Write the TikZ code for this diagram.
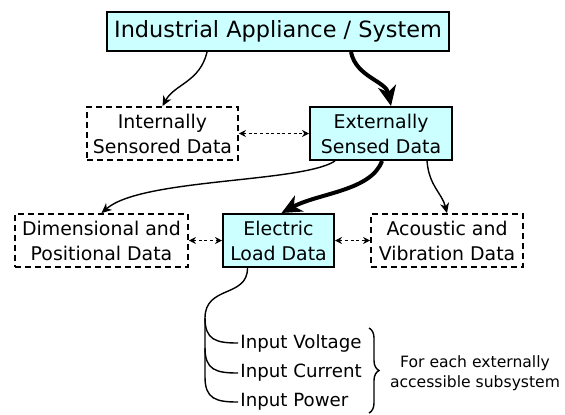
\documentclass[tikz,border=0pt]{standalone}
\usepackage{fontspec}
\setmainfont{DejaVu Sans}
\usetikzlibrary{arrows.meta,positioning,calc,decorations.pathreplacing}
\definecolor{cyanpale}{HTML}{CCFFFF}

\begin{document}
\begin{tikzpicture}[x=0.5pt,y=-0.5pt]
%styles : boites pleines (mesures), boites tiretees (autres donnees), fleches
\tikzset{plein/.style={draw,line width=1pt,fill=cyanpale,align=center,inner sep=1pt,minimum height=26.5pt,font=\fontsize{9.45}{12.5}\selectfont},
tiret/.style={draw,line width=0.9pt,dash pattern=on 3pt off 2pt,align=center,inner sep=1pt,minimum height=26.5pt,font=\fontsize{9.45}{12.5}\selectfont},
fin/.style={line width=0.7pt,-{Stealth[length=5pt,width=4.5pt,inset=1.5pt]}},
gros/.style={line width=2pt,-{Stealth[length=10pt,width=9pt,inset=3pt]}},
pointille/.style={line width=0.7pt,dash pattern=on 1.5pt off 1.3pt,{Stealth[length=3.5pt,width=3.5pt]}-{Stealth[length=3.5pt,width=3.5pt]}},
entree/.style={inner sep=1pt,font=\fontsize{9.1}{11}\selectfont}}
\useasboundingbox (0,0) rectangle (565,414);
\node[plein,minimum width=171pt,minimum height=19.5pt,font=\fontsize{11.2}{13}\selectfont] (sys) at (278,31.5) {Industrial Appliance / System};
\node[tiret,minimum width=75.5pt] (interne) at (162.5,133.5) {Internally\\Sensored Data};
\node[plein,minimum width=71pt] (externe) at (381,133.5) {Externally\\Sensed Data};
\node[tiret,minimum width=86.5pt] (dimens) at (101.5,240.5) {Dimensional and\\Positional Data};
\node[plein,minimum width=55.5pt] (charge) at (278.5,240.5) {Electric\\Load Data};
\node[tiret,minimum width=76pt] (acoust) at (447,240.5) {Acoustic and\\Vibration Data};
%liaisons
\draw[fin] ($(sys.south)+(-71,0)$) .. controls ($(sys.south)+(-78,30)$) and ($(interne.north)+(12,-22)$) .. (interne.north);
\draw[gros] ($(sys.south)+(73,0)$) .. controls ($(sys.south)+(78,25)$) and ($(externe.north)+(5,-25)$) .. ($(externe.north)+(10,0)$);
\draw[pointille] (interne.east) -- (externe.west);
\draw[fin] ($(externe.south)+(-46,0)$) .. controls ($(externe.south)+(-80,22)$) and ($(dimens.north)+(40,-35)$) .. (dimens.north);
\draw[gros] ($(externe.south)+(1,0)$) .. controls ($(externe.south)+(-10,30)$) and ($(charge.north)+(40,-20)$) .. ($(charge.north)+(3,0)$);
\draw[fin] ($(externe.south)+(46,0)$) .. controls ($(externe.south)+(48,25)$) and ($(acoust.north)+(-5,-20)$) .. (acoust.north);
\draw[pointille] (dimens.east) -- (charge.west);
\draw[pointille] (charge.east) -- (acoust.west);
%grandeurs mesurees
\node[entree,anchor=west] (tension) at (238,343) {Input Voltage};
\node[entree,anchor=west] (courant) at (238,373) {Input Current};
\node[entree,anchor=west] (puiss) at (238,402) {Input Power};
\coordinate (fourche) at (205,318);
\draw[line width=0.7pt] ($(charge.south)+(-31,0)$) .. controls ($(charge.south)+(-31,30)$) and (205,285) .. (fourche) -- ($(puiss.west)+(-33,-25)$);
\foreach \n in {tension,courant,puiss}
  \draw[line width=0.7pt] ($(\n.west)+(-33,-25)$) .. controls ($(\n.west)+(-33,-3)$) and ($(\n.west)+(-22,0)$) .. (\n.west);
\coordinate (haut) at (369,328);
\coordinate (bas) at (369,413);
\draw[line width=0.7pt,decorate,decoration={brace,amplitude=5pt}] (haut) -- (bas);
\node[font=\fontsize{7.8}{10}\selectfont,align=center] (chaque) at (475,373) {For each externally\\accessible subsystem};
\end{tikzpicture}
\end{document}
